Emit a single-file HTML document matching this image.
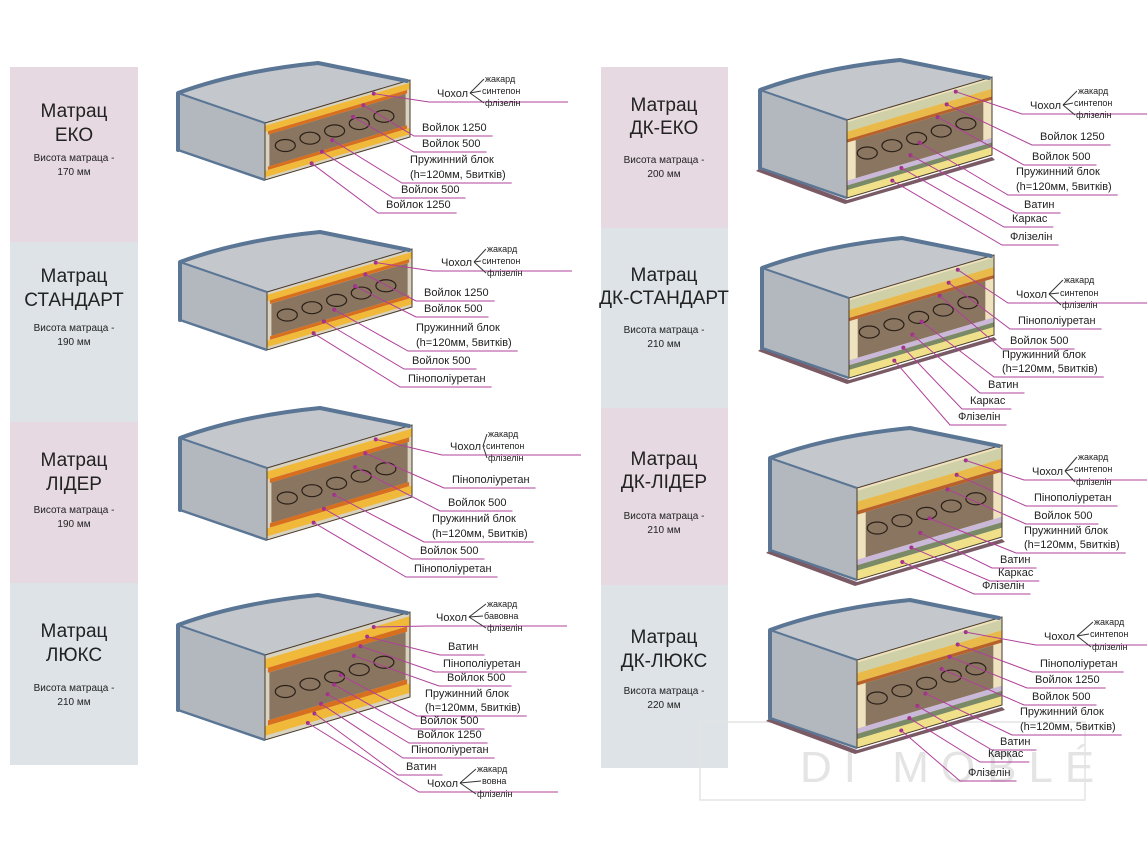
<!DOCTYPE html>
<html><head><meta charset="utf-8"><style>
body{margin:0;background:#fff}
svg{display:block;font-family:"Liberation Sans",sans-serif}
.l{font-size:11px;fill:#222}
.s{font-size:9px;fill:#222}
.t{font-size:19px;fill:#222;text-anchor:middle}
.h{font-size:10px;fill:#222;text-anchor:middle}
</style></head><body>
<svg id="sv" width="1147" height="860" viewBox="0 0 1147 860">
<rect x="10" y="67" width="128" height="175" fill="#e6d9e2"/>
<rect x="10" y="242" width="128" height="180" fill="#dde3e7"/>
<rect x="10" y="422" width="128" height="161" fill="#e6d9e2"/>
<rect x="10" y="583" width="128" height="182" fill="#dde3e7"/>
<rect x="601" y="67" width="127" height="161" fill="#e6d9e2"/>
<rect x="601" y="228" width="127" height="180" fill="#dde3e7"/>
<rect x="601" y="408" width="127" height="177" fill="#e6d9e2"/>
<rect x="601" y="585" width="127" height="183" fill="#dde3e7"/>
<g>
<text class="t" x="74" y="117">Матрац</text><text class="t" x="74" y="141">ЕКО</text>
<text class="h" x="74" y="161">Висота матраца -</text><text class="h" x="74" y="175">170 мм</text>
<text class="t" x="74" y="282">Матрац</text><text class="t" x="74" y="306">СТАНДАРТ</text>
<text class="h" x="74" y="331">Висота матраца -</text><text class="h" x="74" y="345">190 мм</text>
<text class="t" x="74" y="466">Матрац</text><text class="t" x="74" y="490">ЛІДЕР</text>
<text class="h" x="74" y="513">Висота матраца -</text><text class="h" x="74" y="527">190 мм</text>
<text class="t" x="74" y="637">Матрац</text><text class="t" x="74" y="661">ЛЮКС</text>
<text class="h" x="74" y="691">Висота матраца -</text><text class="h" x="74" y="705">210 мм</text>
<text class="t" x="664" y="111">Матрац</text><text class="t" x="664" y="134">ДК-ЕКО</text>
<text class="h" x="664" y="163">Висота матраца -</text><text class="h" x="664" y="177">200 мм</text>
<text class="t" x="664" y="281">Матрац</text><text class="t" x="664" y="304">ДК-СТАНДАРТ</text>
<text class="h" x="664" y="333">Висота матраца -</text><text class="h" x="664" y="347">210 мм</text>
<text class="t" x="664" y="465">Матрац</text><text class="t" x="664" y="488">ДК-ЛІДЕР</text>
<text class="h" x="664" y="519">Висота матраца -</text><text class="h" x="664" y="533">210 мм</text>
<text class="t" x="664" y="643">Матрац</text><text class="t" x="664" y="667">ДК-ЛЮКС</text>
<text class="h" x="664" y="694">Висота матраца -</text><text class="h" x="664" y="708">220 мм</text>
</g>
<rect x="700" y="722" width="385" height="78" fill="none" stroke="#e4e4e4" stroke-width="1.5"/>
<text x="800" y="782" font-size="44" fill="#e4e4e4" letter-spacing="12">DI MOBLÉ</text>
<g id="mats"></g>
<g id="lines" stroke="#b0409a" stroke-width="1" fill="none"></g>
<g id="G0">
<text class="l c" x="437" y="97">Чохол</text><text class="s" x="485" y="82">жакард</text><text class="s" x="482" y="94">синтепон</text><text class="s" x="485" y="106">флізелін</text>
<text class="l" x="422" y="131">Войлок 1250</text><text class="l" x="422" y="147">Войлок 500</text>
<text class="l" x="410" y="163">Пружинний блок</text><text class="l" x="410" y="178">(h=120мм, 5витків)</text>
<text class="l" x="401" y="193">Войлок 500</text><text class="l" x="386" y="208">Войлок 1250</text></g>
<g id="G1">
<text class="l c" x="441" y="266">Чохол</text><text class="s" x="487" y="252">жакард</text><text class="s" x="482" y="264">синтепон</text><text class="s" x="487" y="276">флізелін</text>
<text class="l" x="424" y="296">Войлок 1250</text><text class="l" x="424" y="312">Войлок  500</text>
<text class="l" x="416" y="331">Пружинний блок</text><text class="l" x="416" y="346">(h=120мм, 5витків)</text>
<text class="l" x="412" y="364">Войлок 500</text><text class="l" x="408" y="382">Пінополіуретан</text></g>
<g id="G2">
<text class="l c" x="450" y="450">Чохол</text><text class="s" x="488" y="437">жакард</text><text class="s" x="486" y="449">синтепон</text><text class="s" x="488" y="461">флізелін</text>
<text class="l" x="452" y="483">Пінополіуретан</text><text class="l" x="448" y="506">Войлок 500</text>
<text class="l" x="432" y="522">Пружинний блок</text><text class="l" x="432" y="537">(h=120мм, 5витків)</text>
<text class="l" x="420" y="554">Войлок 500</text><text class="l" x="414" y="572">Пінополіуретан</text></g>
<g id="G3">
<text class="l c" x="436" y="621">Чохол</text><text class="s" x="487" y="607">жакард</text><text class="s" x="484" y="619">бавовна</text><text class="s" x="487" y="631">флізелін</text>
<text class="l" x="448" y="650">Ватин</text><text class="l" x="443" y="667">Пінополіуретан</text><text class="l" x="447" y="681">Войлок 500</text>
<text class="l" x="425" y="697">Пружинний блок</text><text class="l" x="425" y="711">(h=120мм, 5витків)</text>
<text class="l" x="420" y="724">Войлок 500</text><text class="l" x="417" y="738">Войлок 1250</text>
<text class="l" x="411" y="753">Пінополіуретан</text><text class="l" x="406" y="770">Ватин</text>
<text class="l c" x="427" y="787">Чохол</text><text class="s" x="477" y="772">жакард</text><text class="s" x="482" y="784">вовна</text><text class="s" x="477" y="797">флізелін</text></g>
<g id="G4">
<text class="l c" x="1030" y="109">Чохол</text><text class="s" x="1078" y="94">жакард</text><text class="s" x="1074" y="106">синтепон</text><text class="s" x="1076" y="118">флізелін</text>
<text class="l" x="1040" y="140">Войлок 1250</text><text class="l" x="1032" y="160">Войлок  500</text>
<text class="l" x="1016" y="175">Пружинний блок</text><text class="l" x="1016" y="190">(h=120мм, 5витків)</text>
<text class="l" x="1024" y="208">Ватин</text><text class="l" x="1012" y="222">Каркас</text><text class="l" x="1010" y="240">Флізелін</text></g>
<g id="G5">
<text class="l c" x="1016" y="298">Чохол</text><text class="s" x="1064" y="283">жакард</text><text class="s" x="1060" y="296">синтепон</text><text class="s" x="1062" y="308">флізелін</text>
<text class="l" x="1018" y="324">Пінополіуретан</text><text class="l" x="1010" y="344">Войлок  500</text>
<text class="l" x="1002" y="358">Пружинний блок</text><text class="l" x="1002" y="372">(h=120мм, 5витків)</text>
<text class="l" x="988" y="388">Ватин</text><text class="l" x="970" y="404">Каркас</text><text class="l" x="958" y="420">Флізелін</text></g>
<g id="G6">
<text class="l c" x="1032" y="475">Чохол</text><text class="s" x="1078" y="460">жакард</text><text class="s" x="1074" y="472">синтепон</text><text class="s" x="1076" y="485">флізелін</text>
<text class="l" x="1034" y="501">Пінополіуретан</text><text class="l" x="1034" y="519">Войлок  500</text>
<text class="l" x="1024" y="534">Пружинний блок</text><text class="l" x="1024" y="548">(h=120мм, 5витків)</text>
<text class="l" x="1000" y="563">Ватин</text><text class="l" x="998" y="576">Каркас</text><text class="l" x="982" y="589">Флізелін</text></g>
<g id="G7">
<text class="l c" x="1044" y="640">Чохол</text><text class="s" x="1094" y="625">жакард</text><text class="s" x="1090" y="637">синтепон</text><text class="s" x="1092" y="650">флізелін</text>
<text class="l" x="1040" y="667">Пінополіуретан</text><text class="l" x="1035" y="683">Войлок  1250</text><text class="l" x="1032" y="700">Войлок  500</text>
<text class="l" x="1020" y="715">Пружинний блок</text><text class="l" x="1020" y="730">(h=120мм, 5витків)</text>
<text class="l" x="1000" y="745">Ватин</text><text class="l" x="988" y="757">Каркас</text><text class="l" x="968" y="776">Флізелін</text></g>
</svg>
<script>
var NS="http://www.w3.org/2000/svg";
function el(p,t,a){var e=document.createElementNS(NS,t);for(var k in a)e.setAttribute(k,a[k]);p.appendChild(e);return e;}
var M=document.getElementById("mats"),L=document.getElementById("lines");
var mats=[[178,93,57,0],[180,262,58,0],[180,438,72,0],[178,625,85,0],[760,90,78,1],[762,268,80,1],[770,458,92,1],[770,630,88,1]];
var F=[87,30],D=[145,-43],B=[140,-30];
function pt(a){return a.map(function(p){return p[0].toFixed(1)+","+p[1].toFixed(1)}).join(" ")}
var cuts=[];
mats.forEach(function(m,i){
 var x=m[0],y=m[1],h=m[2];
 var P0=[x,y],P1=[x+F[0],y+F[1]],P2=[P1[0]+D[0],P1[1]+D[1]],P3=[x+B[0],y+B[1]];
 function dn(p,d){return [p[0],p[1]+d]}
 if(m[3]) el(M,"polygon",{points:pt([dn(P0,h),dn(P1,h+2),dn(P2,h+2),[P2[0]+3,P2[1]+h+5],[P1[0]-2,P1[1]+h+6],[P0[0]-4,P0[1]+h+3]]),fill:"#7a5a65"});
 el(M,"polygon",{points:pt([P0,P1,dn(P1,h),dn(P0,h)]),fill:"#b3b7be"});
 el(M,"path",{d:"M"+pt([P0])+" Q"+(x+60)+","+(y-22)+" "+pt([P3])+" L"+pt([P2,P1])+"Z",fill:"#c4c7cc"});
 function C(u,v){return [P1[0]+D[0]*u,P1[1]+D[1]*u+h*v]}
 function band(v0,v1,col,u0,u1){u0=u0||0;u1=u1||1;el(M,"polygon",{points:pt([C(u0,v0),C(u1,v0),C(u1,v1),C(u0,v1)]),fill:col});}
 band(0,1,m[3]?"#efe3bf":"#d8d2c0");
 if(m[3]){
  band(0.03,0.15,"#cfd0a8");band(0.15,0.25,"#e9b94a");band(0.25,0.29,"#b8612b");
  band(0.29,0.78,"#8a7560",0.06,0.94);band(0.78,0.84,"#c9b8d8");band(0.84,0.9,"#7a8a66");band(0.9,1,"#f0e08a");
 } else {
  band(0.05,0.16,"#f0b93a");band(0.16,0.22,"#d86f1e",0.02,0.98);
  band(0.22,0.78,"#8a7560",0.03,0.97);band(0.78,0.84,"#d86f1e",0.02,0.98);band(0.84,0.95,"#f0b93a");
 }
 for(var s=0;s<5;s++){var c=C(0.14+s*0.17,0.5);el(M,"ellipse",{cx:c[0],cy:c[1],rx:10,ry:6,fill:"none",stroke:"#2a2018","stroke-width":1.2});}
 el(M,"polygon",{points:pt([P1,P2,dn(P2,h),dn(P1,h)]),fill:"none",stroke:"#4a3a2a","stroke-width":1});
 el(M,"path",{d:"M"+pt([dn(P0,h),P0])+" Q"+(x+60)+","+(y-22)+" "+pt([P3])+" L"+pt([[P2[0]-3,P2[1]+1]]),fill:"none",stroke:"#5a7694","stroke-width":4,"stroke-linejoin":"round","stroke-linecap":"round"});
 el(M,"line",{x1:P0[0],y1:P0[1],x2:P1[0],y2:P1[1],stroke:"#5a7694","stroke-width":2});
 el(M,"line",{x1:P0[0],y1:P0[1]+h,x2:P1[0],y2:P1[1]+h,stroke:"#5a7694","stroke-width":2.5});
 cuts.push(C);
});
for(var g=0;g<8;g++){
 var G=document.getElementById("G"+g),C=cuts[g];
 var ls=G.querySelectorAll(".l"),n=ls.length,j=0;
 for(var i=0;i<n;i++){
  var t=ls[i],tx=+t.getAttribute("x"),ty=+t.getAttribute("y");
  if(t.textContent.indexOf("Пружин")==0){j++;continue;}
  var w=t.getComputedTextLength();
  var uy=ty+5,x0=tx-8,x1=tx+w+6;
  if(t.classList.contains("c")){x1=tx+w+100;}
  var d=C(0.75-0.5*(j/n),Math.min(0.95,0.05+0.9*j/(n-1)));
  el(L,"polyline",{points:pt([d,[x0,uy],[x1,uy]])});
  el(M,"circle",{cx:d[0],cy:d[1],r:2,fill:"#a0308a"});
  j++;
 }
 var cs=G.querySelectorAll(".c");
 cs.forEach(function(c){var cx=+c.getAttribute("x")+c.getComputedTextLength()+2,cy=+c.getAttribute("y")-4;
  var s=c.nextElementSibling;for(var k=0;k<3&&s;k++){el(L,"line",{x1:cx,y1:cy,x2:+s.getAttribute("x")-1,y2:+s.getAttribute("y")-3,stroke:"#333"});s=s.nextElementSibling;}});
}
</script>
</body></html>
